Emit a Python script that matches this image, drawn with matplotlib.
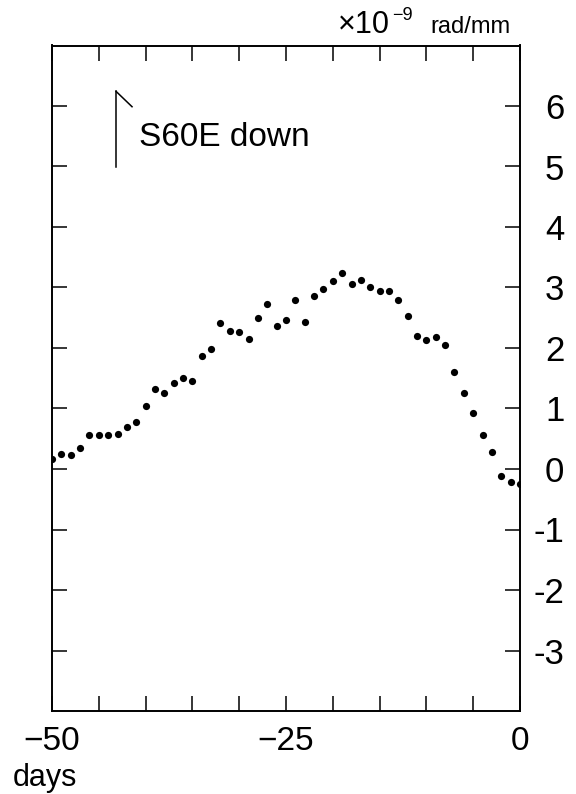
import numpy as np
import matplotlib
matplotlib.use("Agg")
import matplotlib.pyplot as plt

# daily tilt values, S60E down component (x10^-9 rad/mm)
days = np.arange(-50, 1)
tilt = [0.16, 0.24, 0.23, 0.34, 0.56, 0.57, 0.57, 0.58, 0.69, 0.78,
        1.04, 1.33, 1.25, 1.42, 1.50, 1.45, 1.86, 1.99, 2.42, 2.28,
        2.26, 2.15, 2.49, 2.72, 2.36, 2.47, 2.80, 2.43, 2.86, 2.98,
        3.11, 3.24, 3.05, 3.12, 3.01, 2.94, 2.94, 2.80, 2.53, 2.20,
        2.13, 2.19, 2.05, 1.61, 1.25, 0.92, 0.57, 0.28, -0.12, -0.21,
        -0.25]

xticks = list(range(-50, 1, 5))
xlabels = {-50: '\u221250', -25: '\u221225', 0: '0'}
yticks = list(range(-3, 7))
ylabels = [str(v) for v in yticks]

plt.rcParams['font.family'] = ['Liberation Sans', 'DejaVu Sans']

W, H = 576, 794
fig = plt.figure(figsize=(W / 100, H / 100), dpi=100)
ax = fig.add_axes([52 / W, 1 - 711 / H, (520 - 52) / W, (711 - 45.5) / H])

ax.plot(days, tilt, 'o', color='black', markersize=5.2, markeredgewidth=0)

ax.set_xlim(-50, 0)
ax.set_ylim(-4, 7)

ax.set_xticks(xticks)
ax.set_xticklabels([xlabels.get(t, '') for t in xticks], fontsize=24)
ax.set_yticks(yticks)
ax.set_yticklabels(ylabels, fontsize=25)

ax.tick_params(axis='x', direction='in', length=11, width=1.1, top=True,
               bottom=True, pad=11)
ax.tick_params(axis='y', direction='in', length=11, width=1.1, left=True,
               right=True, labelleft=False, labelright=True, pad=32)
for lab in ax.get_yticklabels():
    lab.set_horizontalalignment('right')

for sp in ax.spines.values():
    sp.set_linewidth(1.4)

# component label with its little flag symbol
ax.plot([0.137, 0.137], [0.818, 0.931], transform=ax.transAxes,
        color='black', lw=1.1, clip_on=False)
ax.plot([0.137, 0.171], [0.931, 0.908], transform=ax.transAxes,
        color='black', lw=1.1, clip_on=False)
fig.text(139 / W, 1 - 146 / H, 'S60E down', fontsize=24, va='baseline')

# units in the upper right
fig.text(338 / W, 1 - 33 / H, '\u00d710', fontsize=22, va='baseline')
fig.text(392 / W, 1 - 20 / H, '\u22129', fontsize=13, va='baseline')
fig.text(430 / W, 1 - 33 / H, 'rad/mm', fontsize=17, va='baseline')

fig.text(13 / W, 1 - 786 / H, 'days', fontsize=22, va='baseline')

fig.savefig('out.png', dpi=100)
